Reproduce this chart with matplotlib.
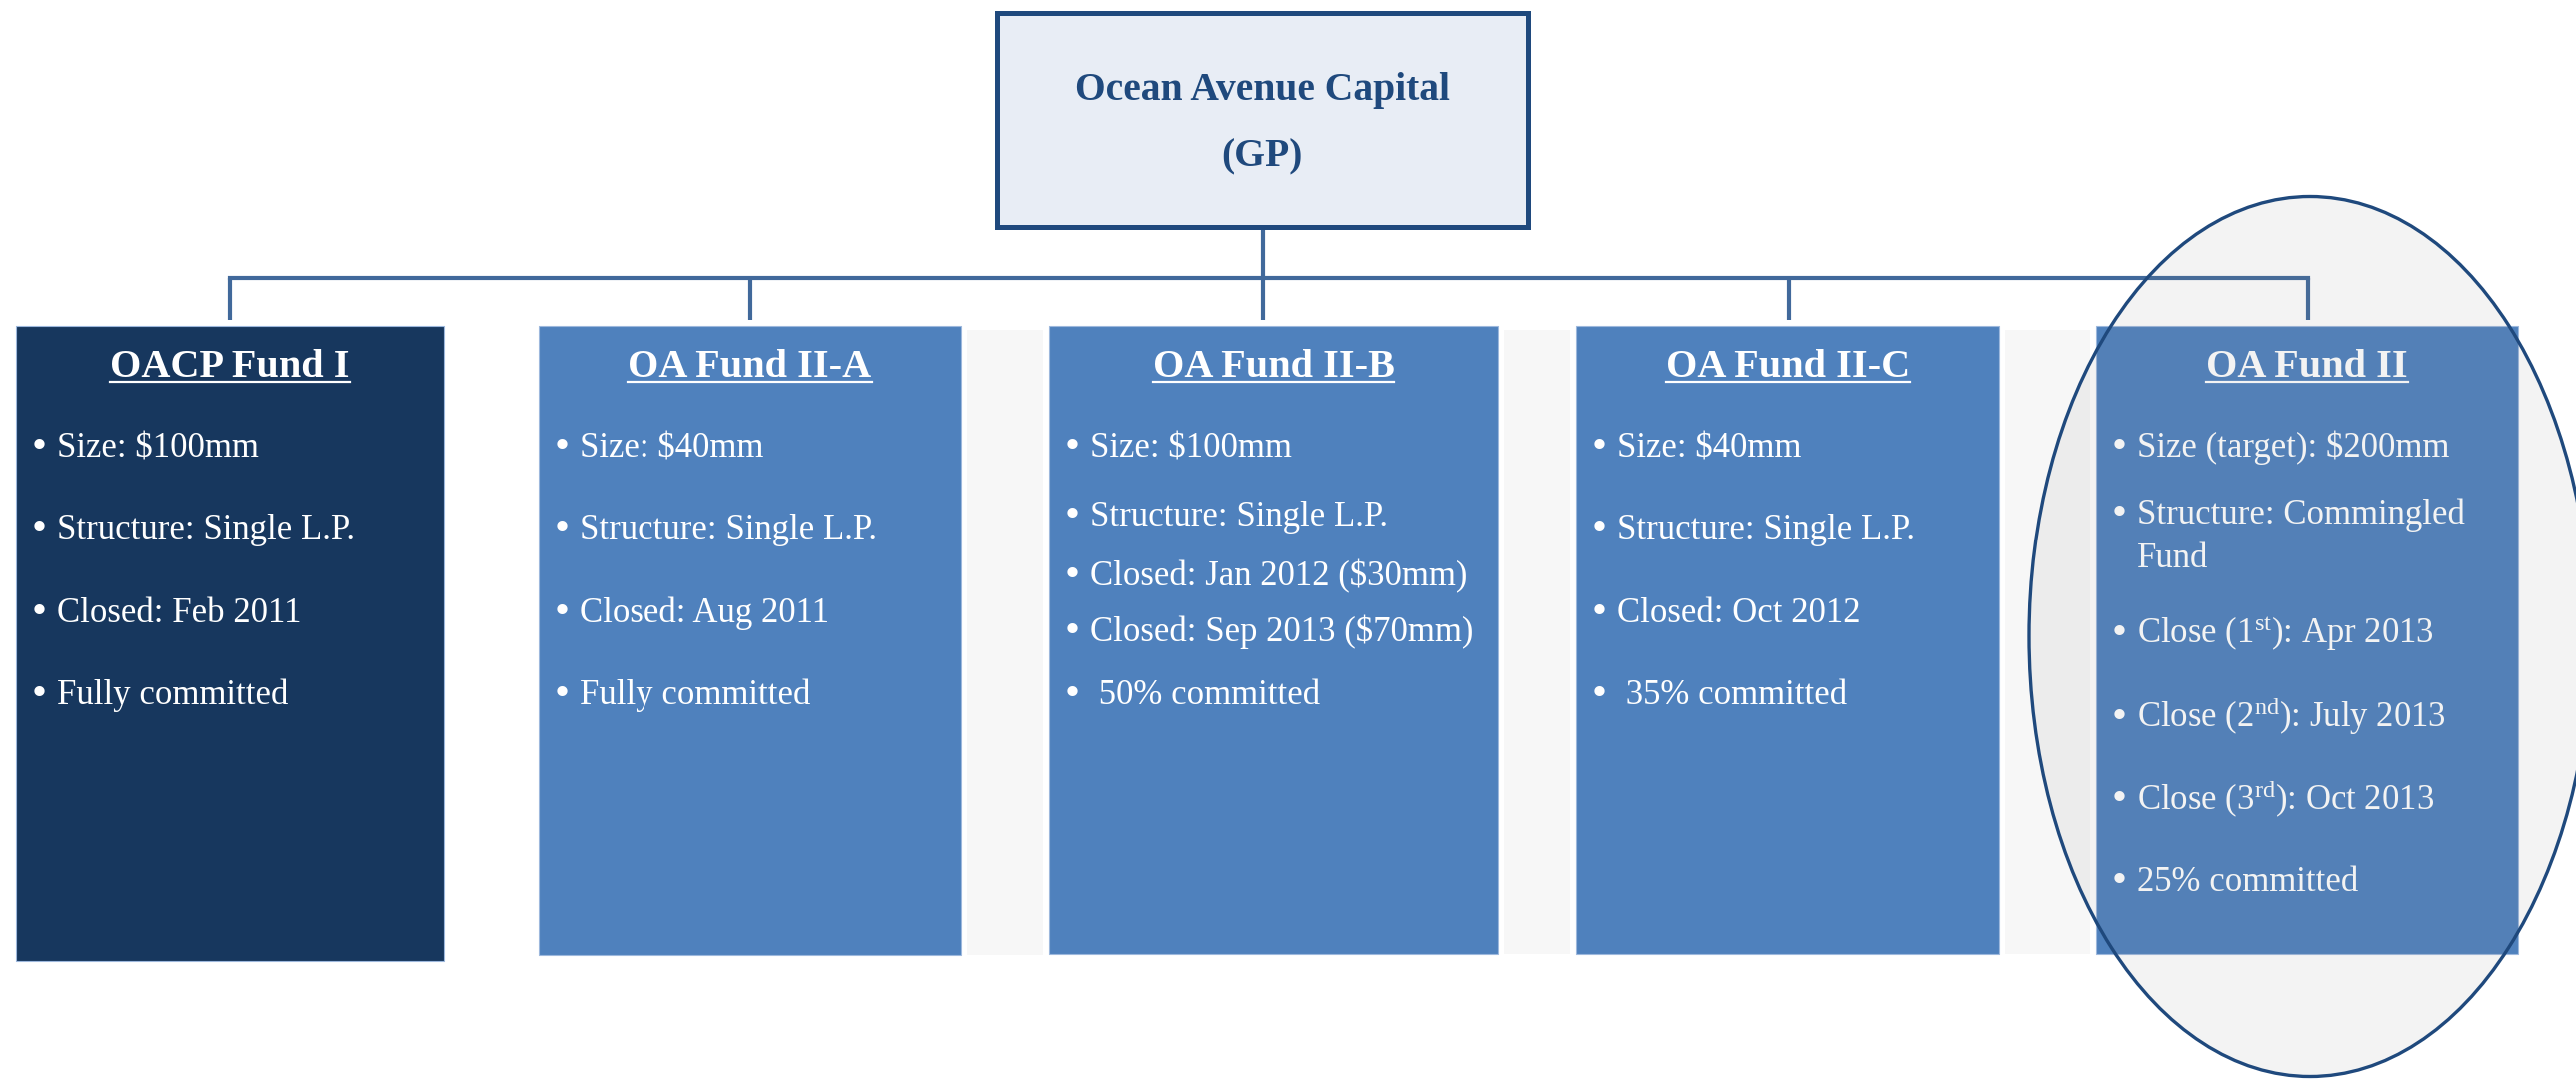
import matplotlib.pyplot as plt
from matplotlib.patches import Rectangle, Ellipse

plt.rcParams['font.family'] = ['Liberation Serif', 'DejaVu Serif']
plt.rcParams['mathtext.fontset'] = 'custom'
plt.rcParams['mathtext.rm'] = 'Liberation Serif'
plt.rcParams['mathtext.it'] = 'Liberation Serif:italic'
plt.rcParams['mathtext.bf'] = 'Liberation Serif:bold'

# chart content
gp_name = 'Ocean Avenue Capital'
gp_role = '(GP)'
funds = ['OACP Fund I', 'OA Fund II-A', 'OA Fund II-B', 'OA Fund II-C', 'OA Fund II']
fund1 = ['Size: $100mm', 'Structure: Single L.P.', 'Closed: Feb 2011', 'Fully committed']
fund2a = ['Size: $40mm', 'Structure: Single L.P.', 'Closed: Aug 2011', 'Fully committed']
fund2b = ['Size: $100mm', 'Structure: Single L.P.', 'Closed: Jan 2012 ($30mm)',
          'Closed: Sep 2013 ($70mm)', ' 50% committed']
fund2c = ['Size: $40mm', 'Structure: Single L.P.', 'Closed: Oct 2012', ' 35% committed']
fund2 = ['Size (target): $200mm', 'Structure: Commingled\nFund',
         r'Close (1$^{\rm st}$): Apr 2013', r'Close (2$^{\rm nd}$): July 2013',
         r'Close (3$^{\rm rd}$): Oct 2013', '25% committed']
points = [fund1, fund2a, fund2b, fund2c, fund2]

# layout (pixels)
W, H = 2578, 1080
box_l = [16, 539, 1050, 1577, 2098]
box_r = [444, 962, 1499, 2001, 2520]
box_b = [962, 956, 955, 955, 955]
box_t = 326
drop_x = [230, 751, 1264, 1790, 2310]
bullet_y = [[446, 528, 612, 694],
            [446, 528, 612, 694],
            [446, 515, 575, 631, 694],
            [446, 528, 612, 694],
            [446, 513, 633, 717, 799, 881]]
wrap_gap = 44
box_colors = ['#17375E', '#4F81BD', '#4F81BD', '#4F81BD', '#4F81BD']
line_c = '#41699B'
dark = '#1F497D'

fig = plt.figure(figsize=(W / 100, H / 100), dpi=100)
ax = fig.add_axes([0, 0, 1, 1])
ax.set_xlim(0, W)
ax.set_ylim(H, 0)
ax.axis('off')

# top GP box
ax.add_patch(Rectangle((998, 13), 1529 - 998, 227 - 13, facecolor='#E8EDF5',
                       edgecolor=dark, lw=3.6, zorder=3))
ax.text(1263, 100, gp_name, ha='center', va='baseline', fontsize=28.5,
        fontweight='bold', color=dark, zorder=4)
ax.text(1263, 166, gp_role, ha='center', va='baseline', fontsize=28.5,
        fontweight='bold', color=dark, zorder=4)

# connectors
ax.plot([1264, 1264], [227, 278], color=line_c, lw=3, solid_capstyle='butt', zorder=2)
ax.plot([drop_x[0], drop_x[-1]], [278, 278], color=line_c, lw=3, zorder=2)
for x in drop_x:
    ax.plot([x, x], [278, 320], color=line_c, lw=3, solid_capstyle='butt', zorder=2)

# light bands between the fund II boxes
for i in range(1, 4):
    ax.add_patch(Rectangle((box_r[i] + 6, box_t + 4), box_l[i + 1] - box_r[i] - 12,
                           box_b[i] - box_t - 4, facecolor='#F7F7F7', edgecolor='none',
                           zorder=1))

titles = []
for i, name in enumerate(funds):
    l, r = box_l[i], box_r[i]
    ax.add_patch(Rectangle((l, box_t), r - l, box_b[i] - box_t, facecolor=box_colors[i],
                           edgecolor='#9DB8DD', lw=0.8, zorder=2))
    t = ax.text((l + r) / 2, 377, name, ha='center', va='baseline', fontsize=29,
                fontweight='bold', color='white', zorder=4)
    titles.append(t)
    for txt, y in zip(points[i], bullet_y[i]):
        ax.text(l + 23, y + 12, '\u2022', ha='center', va='baseline', fontsize=31,
                color='white', zorder=4)
        for k, line in enumerate(txt.split('\n')):
            ax.text(l + 41, y + 11 + k * wrap_gap, line, ha='left', va='baseline',
                    fontsize=25, color='white', zorder=4)

# underline the fund titles
fig.canvas.draw()
inv = ax.transData.inverted()
for t in titles:
    bb = t.get_window_extent()
    x0 = inv.transform((bb.x0, bb.y0))[0]
    x1 = inv.transform((bb.x1, bb.y0))[0]
    ax.plot([x0, x1], [382, 382], color='white', lw=1.6, zorder=4)

# highlight ellipse around the new fund
ax.add_patch(Ellipse((2312, 637), 562, 881, facecolor=(0.5, 0.5, 0.5, 0.09),
                     edgecolor=dark, lw=2.4, zorder=5))

fig.savefig('out.png', dpi=100)
